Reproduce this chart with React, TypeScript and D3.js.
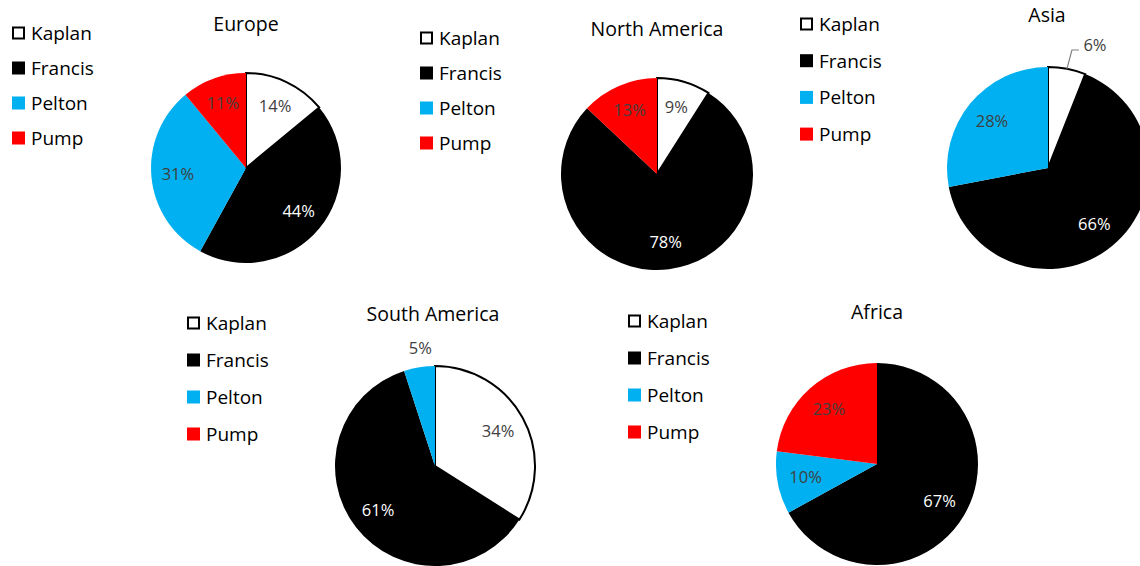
import React from "react";
import * as d3 from "d3";

const categories = ["Kaplan", "Francis", "Pelton", "Pump"];
const regions = ["Europe", "North America", "Asia", "South America", "Africa"];
const europe = [14, 44, 31, 11];
const northAmerica = [9, 78, 0, 13];
const asia = [6, 66, 28, 0];
const southAmerica = [34, 61, 5, 0];
const africa = [0, 67, 10, 23];
const seriesValues = [europe, northAmerica, asia, southAmerica, africa];

const colors = ["#FFFFFF", "#000000", "#00B0F0", "#FF0000"];

// layout per panel: pie center, radius, title, legend
const layout = [
  { cx: 246, cy: 168, r: 95, tx: 246, ty: 31, lx: 12, ly: 33, ls: 35 },
  { cx: 657, cy: 174, r: 96, tx: 657, ty: 36, lx: 420, ly: 38, ls: 35 },
  { cx: 1048, cy: 168, r: 101, tx: 1047, ty: 22, lx: 800, ly: 24, ls: 36.7 },
  { cx: 435, cy: 466, r: 100, tx: 433, ty: 321, lx: 187, ly: 323, ls: 37 },
  { cx: 877, cy: 464, r: 101, tx: 877, ty: 319, lx: 628, ly: 321, ls: 37 },
];

const FONT = "'Open Sans', 'Noto Sans', sans-serif";

function Pie({ idx }: { idx: number }) {
  const vals = seriesValues[idx];
  const L = layout[idx];
  const data = categories.map((c, i) => ({ cat: c, value: vals[i], i }));
  const pie = d3.pie<any>().sort(null).value((d) => d.value).startAngle(0).endAngle(2 * Math.PI);
  const arcs = pie(data);
  const arc = d3.arc<any>().innerRadius(0).outerRadius(L.r);
  const labelArc = d3.arc<any>().innerRadius(L.r * 0.72).outerRadius(L.r * 0.72);
  const outerArc = d3.arc<any>().innerRadius(L.r * 1.13).outerRadius(L.r * 1.13);

  return (
    <g>
      <text x={L.tx} y={L.ty} textAnchor="middle" fontFamily={FONT} fontSize={19.5} fill="#000">
        {regions[idx]}
      </text>
      {categories.map((c, i) => (
        <g key={c} transform={`translate(${L.lx},${L.ly + i * L.ls})`}>
          {i === 0 ? (
            <rect x={1} y={-5.5} width={11} height={11} fill="#fff" stroke="#000" strokeWidth={2} />
          ) : (
            <rect x={0} y={-6.5} width={13} height={13} fill={colors[i]} />
          )}
          <text x={19} y={7} fontFamily={FONT} fontSize={19} fill="#000">
            {c}
          </text>
        </g>
      ))}
      <g transform={`translate(${L.cx},${L.cy})`}>
        {arcs.map((a) =>
          a.data.value > 0 ? (
            <path
              key={a.data.cat}
              d={arc(a) as string}
              fill={colors[a.data.i]}
              stroke={a.data.i === 0 ? "#000" : "none"}
              strokeWidth={a.data.i === 0 ? 2 : 0}
            />
          ) : null
        )}
        {arcs.map((a) => {
          if (a.data.value <= 0) return null;
          const small = a.data.value <= 6;
          let [x, y] = small ? outerArc.centroid(a) : labelArc.centroid(a);
          const fill = a.data.i === 1 ? "#FFFFFF" : "#404040";
          let leader = null;
          if (small && idx === 2) {
            // Asia: label with leader line
            const mid = (a.startAngle + a.endAngle) / 2;
            const ex = Math.sin(mid) * L.r;
            const ey = -Math.cos(mid) * L.r;
            const ly = -L.r - 17;
            x = ex + 28;
            y = ly - 5;
            leader = (
              <polyline
                points={`${ex},${ey} ${ex + 5},${ly} ${ex + 12},${ly}`}
                fill="none"
                stroke="#808080"
                strokeWidth={1.2}
              />
            );
          } else if (small) {
            x = x + 3;
            y = y - 6;
          }
          return (
            <g key={"l" + a.data.cat}>
              {leader}
              <text
                x={x}
                y={y}
                dy="0.35em"
                textAnchor="middle"
                fontFamily={FONT}
                fontSize={16.5}
                fill={small ? "#404040" : fill}
              >
                {a.data.value}%
              </text>
            </g>
          );
        })}
      </g>
    </g>
  );
}

export default function App() {
  return (
    <svg
      width={1140}
      height={566}
      style={{ position: "absolute", left: 0, top: 0, background: "#fff" }}
    >
      <rect width={1140} height={566} fill="#fff" />
      {regions.map((r, i) => (
        <Pie key={r} idx={i} />
      ))}
    </svg>
  );
}
